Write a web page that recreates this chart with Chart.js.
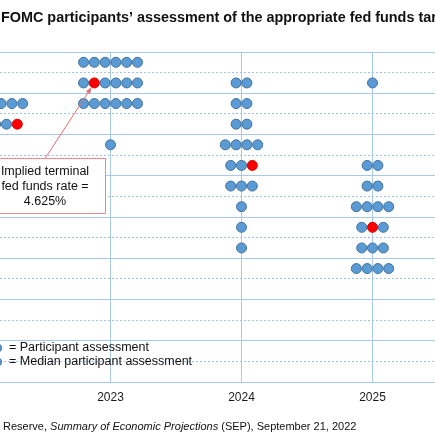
<!DOCTYPE html>
<html>
<head>
<meta charset="utf-8">
<script src="https://cdn.jsdelivr.net/npm/chart.js@4.4.1/dist/chart.umd.min.js"></script>
<style>
  html, body { margin: 0; padding: 0; background: #fff; }
  canvas { display: block; }
</style>
</head>
<body>
<canvas id="dotplot" width="435" height="435"></canvas>
<script>
// Sept 2022 SEP dot plot, rows are the midpoints of the 25bp ranges
const years = [2022, 2023, 2024, 2025];
const rateLevels = [4.875, 4.625, 4.375, 4.125, 3.875, 3.625, 3.375, 3.125, 2.875, 2.625, 2.375];
const counts2022 = [0, 0, 9, 8, 2, 0, 0, 0, 0, 0, 0];
const counts2023 = [6, 6, 6, 0, 1, 0, 0, 0, 0, 0, 0];
const counts2024 = [0, 2, 2, 2, 4, 3, 3, 1, 1, 1, 0];
const counts2025 = [0, 1, 0, 0, 0, 2, 2, 4, 3, 3, 4];
// red dot per year: its rate row and its slot in that row
const medianRates = [4.125, 4.625, 3.625, 2.875];
const medianSlot = [7, 1, 2, 1];

const titleText = 'FOMC participants\u2019 assessment of the appropriate fed funds target rate';
const sourceParts = [
  ['Reserve, ', false],
  ['Summary of Economic Projections', true],
  [' (SEP), September 21, 2022', false]
];
const boxLines = ['Implied terminal', 'fed funds rate =', medianRates[1].toFixed(3) + '%'];
const legendLines = ['= Participant assessment', '= Median participant assessment'];

const dotStep = 0.0824; // horizontal gap between dots, in years
const countsByYear = [counts2022, counts2023, counts2024, counts2025];

const blueDots = [];
const redDots = [];
rateLevels.forEach((rate, r) => {
  years.forEach((year, i) => {
    const n = countsByYear[i][r];
    for (let k = 0; k < n; k++) {
      const pt = { x: year + (k - (n - 1) / 2) * dotStep, y: rate };
      if (rate === medianRates[i] && k === medianSlot[i]) redDots.push(pt);
      else blueDots.push(pt);
    }
  });
});

const gridBlue = '#a9c9ea';
const font = '"Liberation Sans", Arial, sans-serif';

const decor = {
  id: 'decor',
  afterDraw(chart) {
    const { ctx, scales: { x, y } } = chart;
    ctx.save();
    ctx.fillStyle = '#111';
    ctx.textBaseline = 'alphabetic';
    ctx.font = 'bold 14.4px ' + font;
    ctx.fillText(titleText, 1, 22);

    // source line, mixed italic
    let fx = 3;
    sourceParts.forEach(([txt, italic]) => {
      ctx.font = (italic ? 'italic ' : '') + '11px ' + font;
      ctx.fillText(txt, fx, 430);
      fx += ctx.measureText(txt).width;
    });

    // legend
    ctx.textBaseline = 'middle';
    ctx.font = '12.5px ' + font;
    legendLines.forEach((txt, i) => {
      const ly = 348 + i * 14;
      ctx.beginPath();
      ctx.arc(-3.5, ly, 5, 0, Math.PI * 2);
      ctx.fillStyle = '#5b9bd5';
      ctx.fill();
      ctx.strokeStyle = '#41719c';
      ctx.lineWidth = 1;
      ctx.stroke();
      ctx.fillStyle = '#111';
      ctx.fillText(txt, 9, ly);
    });

    // annotation box
    const bx = x.getPixelForValue(2022.5);
    const top = 158.5, bottom = 213.5, half = 60;
    ctx.fillStyle = '#fff';
    ctx.fillRect(bx - half, top, half * 2, bottom - top);
    ctx.strokeStyle = '#f08a8a';
    ctx.lineWidth = 1;
    ctx.strokeRect(Math.round(bx - half) + 0.5, top, half * 2, bottom - top);
    ctx.fillStyle = '#111';
    ctx.textAlign = 'center';
    boxLines.forEach((txt, i) => ctx.fillText(txt, bx, 172 + i * 15));

    // arrow to the 2023 median dot
    const n23 = counts2023[rateLevels.indexOf(medianRates[1])];
    const tx = x.getPixelForValue(years[1] + (medianSlot[1] - (n23 - 1) / 2) * dotStep);
    const ty = y.getPixelForValue(medianRates[1]);
    const sx = bx, sy = top;
    const len = Math.hypot(tx - sx, ty - sy);
    const ux = (tx - sx) / len, uy = (ty - sy) / len;
    const ex = tx - ux * 5.5, ey = ty - uy * 5.5;
    ctx.strokeStyle = '#f06a6a';
    ctx.fillStyle = '#f06a6a';
    ctx.beginPath();
    ctx.moveTo(sx, sy);
    ctx.lineTo(ex - ux * 4, ey - uy * 4);
    ctx.stroke();
    ctx.beginPath();
    ctx.moveTo(ex, ey);
    ctx.lineTo(ex - ux * 6 - uy * 2.5, ey - uy * 6 + ux * 2.5);
    ctx.lineTo(ex - ux * 6 + uy * 2.5, ey - uy * 6 - ux * 2.5);
    ctx.closePath();
    ctx.fill();
    ctx.restore();
  }
};

new Chart(document.getElementById('dotplot'), {
  type: 'scatter',
  data: {
    datasets: [{
      label: 'Median participant assessment',
      data: redDots,
      pointRadius: 5,
      pointBorderWidth: 1,
      pointBackgroundColor: '#ff0000',
      pointBorderColor: '#d40000',
      clip: false
    }, {
      label: 'Participant assessment',
      data: blueDots,
      pointRadius: 5,
      pointBorderWidth: 1,
      pointBackgroundColor: '#5b9bd5',
      pointBorderColor: '#41719c',
      clip: false
    }]
  },
  options: {
    responsive: false,
    animation: false,
    events: [],
    layout: { autoPadding: false, padding: { top: 52, left: 0, right: 0, bottom: 0 } },
    plugins: {
      legend: { display: false },
      tooltip: { enabled: false }
    },
    scales: {
      x: {
        type: 'linear',
        min: 2022.1565,
        max: 2025.477,
        // only the years inside the visible window get a tick
        afterBuildTicks: s => {
          s.ticks = years.filter(v => v >= s.min && v <= s.max).map(v => ({ value: v }));
        },
        afterFit: s => { s.height = 53; },
        ticks: {
          callback: v => String(v),
          autoSkip: false,
          maxRotation: 0,
          padding: 8,
          color: '#1a1a1a',
          font: { family: font, size: 12 }
        },
        grid: { color: gridBlue, lineWidth: 1, drawTicks: false },
        border: { display: false }
      },
      y: {
        min: 1,
        max: 5,
        afterFit: s => { s.width = 0; },
        ticks: { stepSize: 0.25, display: false },
        grid: {
          drawTicks: false,
          lineWidth: 1,
          color: c => (c.tick && c.tick.value % 0.5 !== 0) ? '#9fc4ea' : gridBlue
        },
        border: {
          display: false,
          dash: c => (c.tick && c.tick.value % 0.5 !== 0) ? [2, 2] : []
        }
      }
    }
  },
  plugins: [decor]
});
</script>
</body>
</html>
